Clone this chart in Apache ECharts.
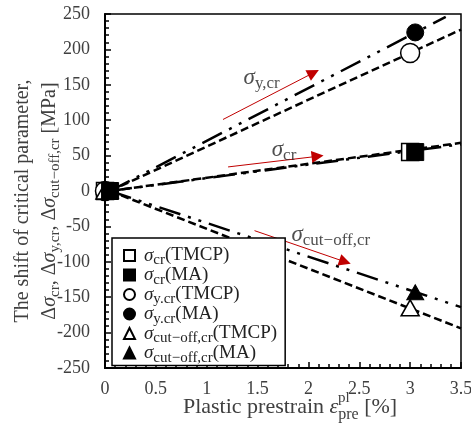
<!DOCTYPE html>
<html><head><meta charset="utf-8">
<script src="https://cdn.jsdelivr.net/npm/echarts@6/dist/echarts.min.js"></script>
<style>html,body{margin:0;padding:0;background:#fff}#c{width:471px;height:424px}</style>
</head><body><div id="c"></div>
<script>
// ---- data ----
const legendNames = ['σcr(TMCP)', 'σcr(MA)', 'σy.cr(TMCP)', 'σy.cr(MA)', 'σcut−off,cr(TMCP)', 'σcut−off,cr(MA)'];
const legendSubs  = ['cr', 'cr', 'y.cr', 'y.cr', 'cut−off,cr', 'cut−off,cr'];
const legendTails = ['(TMCP)', '(MA)', '(TMCP)', '(MA)', '(TMCP)', '(MA)'];

// measured points [prestrain %, shift MPa]
const crTMCP  = [[0, 0], [3.0, 55]];
const crMA    = [[0.05, 0], [3.05, 55]];
const yTMCP   = [[0, 0], [3.0, 195]];
const yMA     = [[0.05, 0], [3.05, 224]];
const cutTMCP = [[0, 0], [3.0, -165]];
const cutMA   = [[0.05, 0], [3.05, -143]];

// trend lines (dashed = TMCP, dash-dot-dot = MA)
const fitCrTMCP  = [[0.05, 0], [3.5, 68]];
const fitCrMA    = [[0.05, 0], [3.5, 66]];
const fitYTMCP   = [[0.05, 0], [3.5, 228]];
const fitYMA     = [[0.05, 0], [3.35, 246]];
const fitCutTMCP = [[0.05, 0], [3.5, -194]];
const fitCutMA   = [[0.05, 0], [3.5, -164]];

// red arrows and their labels
const arrowCoords = [
  [[1.16, 101], [2.05, 167]],
  [[1.21, 34], [2.09, 49]],
  [[1.47, -56], [2.36, -100]]
];
const arrowLabelPos = [[1.54, 160], [1.76, 58], [2.22, -62]];
const arrowLabelSubs = ['y,cr', 'cr', 'cut−off,cr'];

const xMin = 0, xMax = 3.5, xStep = 0.5;
const yMin = -250, yMax = 250, yStep = 50;

// ---- chart ----
const FF = 'Liberation Serif';
const chart = echarts.init(document.getElementById('c'), null, {renderer: 'canvas'});

function fitSeries(data, tmcp) {
  return {
    type: 'line', data: data, showSymbol: false, symbol: 'none', silent: true, z: 2,
    lineStyle: {color: '#000', width: 2.5, cap: 'butt',
      type: tmcp ? [8, 4] : [22, 8, 3, 8, 3, 8]}
  };
}
function markerSeries(name, data, symbol, filled, size) {
  return {
    type: 'scatter', name: name, data: data, symbol: symbol, symbolSize: size, z: 4,
    itemStyle: filled ? {color: '#000', borderColor: '#000', borderWidth: 1, opacity: 1}
                      : {color: '#fff', borderColor: '#000', borderWidth: 1.5, opacity: 1}
  };
}

const legendRich = {
  g: {fontFamily: FF, fontStyle: 'italic', fontSize: 19, color: '#222', height: 18, lineHeight: 18, padding: [0, 0, 0, 4]},
  s: {fontFamily: FF, fontSize: 15, color: '#222', height: 8, lineHeight: 18, padding: [10, 0, 0, 0]},
  n: {fontFamily: FF, fontSize: 19, color: '#222', height: 18, lineHeight: 18}
};
const annRich = {
  g: {fontFamily: FF, fontStyle: 'italic', fontSize: 23, color: '#222', height: 24, lineHeight: 24},
  s: {fontFamily: FF, fontSize: 17, color: '#222', height: 12, lineHeight: 24, padding: [12, 0, 0, 0]}
};
const yNameRich = {
  t: {fontFamily: FF, fontSize: 20, color: '#404040', lineHeight: 27},
  g: {fontFamily: FF, fontStyle: 'italic', fontSize: 20, color: '#404040', lineHeight: 27},
  s: {fontFamily: FF, fontSize: 15, color: '#404040', height: 10, lineHeight: 27, padding: [11, 0, 0, 0]}
};
const xNameRich = {
  t: {fontFamily: FF, fontSize: 22, color: '#404040', height: 24, lineHeight: 24},
  g: {fontFamily: FF, fontStyle: 'italic', fontSize: 22, color: '#404040', height: 24, lineHeight: 24},
  s: {fontFamily: FF, fontSize: 16, color: '#404040', height: 8, lineHeight: 24, padding: [16, 0, 0, 0]}
};

const option = {
  animation: false,
  backgroundColor: '#fff',
  grid: {left: 105, right: 10, top: 14, bottom: 56, show: true, borderColor: '#000', borderWidth: 1.5,
         backgroundColor: 'transparent', outerBoundsMode: 'none', containLabel: false},
  xAxis: {
    type: 'value', min: xMin, max: xMax, interval: xStep,
    axisLine: {show: true, onZero: false, lineStyle: {color: '#000', width: 2}},
    axisTick: {show: true, inside: true, length: 6, lineStyle: {color: '#000', width: 1.5}},
    minorTick: {show: true, splitNumber: 5, length: 4, lineStyle: {color: '#000', width: 1.5}},
    splitLine: {show: false},
    axisLabel: {fontFamily: FF, fontSize: 18, color: '#404040', margin: 12, showMinLabel: true, showMaxLabel: true},
    name: '{t|Plastic prestrain }{g|ε}{s|pre}{t| [%]}',
    nameLocation: 'middle', nameGap: 27, nameMoveOverlap: false,
    nameTextStyle: {rich: xNameRich, padding: [0, 0, 0, 14]}
  },
  yAxis: {
    type: 'value', min: yMin, max: yMax, interval: yStep,
    axisLine: {show: true, onZero: false, lineStyle: {color: '#000', width: 2}},
    axisTick: {show: true, inside: true, length: 6, lineStyle: {color: '#000', width: 1.5}},
    minorTick: {show: true, splitNumber: 5, length: 4, lineStyle: {color: '#000', width: 1.5}},
    splitLine: {show: false},
    axisLabel: {fontFamily: FF, fontSize: 18, color: '#404040', margin: 15, showMinLabel: true, showMaxLabel: true},
    name: '{t|The shift of critical parameter,}\n{t|Δ}{g|σ}{s|cr}{t|, Δ}{g|σ}{s|y,cr}{t|, Δ}{g|σ}{s|cut−off,cr}{t| [MPa]}',
    nameLocation: 'middle', nameRotate: 90, nameGap: 42, nameMoveOverlap: false,
    nameTextStyle: {rich: yNameRich, padding: [0, 20, 0, 0]}
  },
  legend: {
    data: legendNames, orient: 'vertical', left: 112, top: 238,
    itemWidth: 11, itemHeight: 11, itemGap: -2.5, padding: [8, 8, 0, 11],
    backgroundColor: '#fff', borderColor: '#000', borderWidth: 1.5, borderRadius: 0,
    selectedMode: false, z: 10,
    textStyle: {rich: legendRich},
    formatter: function (name) {
      const i = legendNames.indexOf(name);
      return '{g|σ}{s|' + legendSubs[i] + '}{n|' + legendTails[i] + '}';
    }
  },
  series: [
    fitSeries(fitCrTMCP, true), fitSeries(fitCrMA, false),
    fitSeries(fitYTMCP, true), fitSeries(fitYMA, false),
    fitSeries(fitCutTMCP, true), fitSeries(fitCutMA, false),
    {
      type: 'lines', coordinateSystem: 'cartesian2d', silent: true, z: 3,
      symbol: ['none', 'triangle'], symbolSize: [0, 12],
      lineStyle: {color: '#c00000', width: 1, opacity: 1},
      itemStyle: {color: '#c00000'},
      data: arrowCoords.map(c => ({coords: c}))
    },
    {
      type: 'scatter', silent: true, symbolSize: 0, z: 3,
      data: arrowLabelPos.map((p, i) => ({value: p})),
      label: {show: true, position: 'inside', rich: annRich,
        formatter: function (p) { return '{g|σ}{s|' + arrowLabelSubs[p.dataIndex] + '}'; }}
    },
    markerSeries(legendNames[0], crTMCP, 'rect', false, 17),
    markerSeries(legendNames[2], yTMCP, 'circle', false, 19),
    markerSeries(legendNames[4], cutTMCP, 'triangle', false, [18, 16]),
    markerSeries(legendNames[1], crMA, 'rect', true, 17),
    markerSeries(legendNames[3], yMA, 'circle', true, 17),
    markerSeries(legendNames[5], cutMA, 'triangle', true, [17, 15])
  ],
  graphic: [{
    type: 'text', left: 338, top: 391, z: 20, silent: true,
    style: {text: 'pl', font: '15px "Liberation Serif"', fill: '#404040'}
  }]
};
chart.setOption(option);
</script></body></html>
